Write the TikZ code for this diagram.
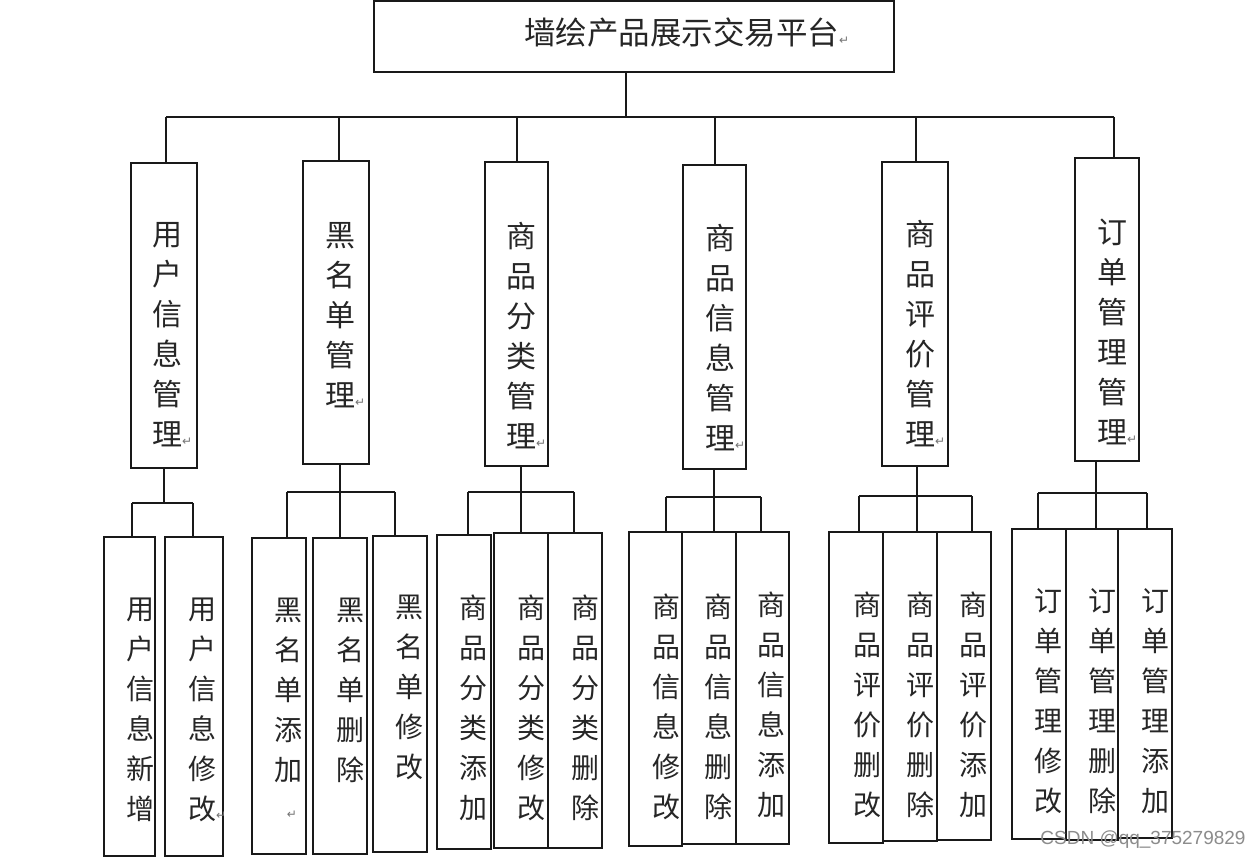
\documentclass[tikz,border=0pt]{standalone}
\usepackage{fontspec}
\newfontfamily\cjk{Noto Sans CJK SC}
\newfontfamily\dv{DejaVu Sans}
\newfontfamily\wm{Liberation Sans}
\usetikzlibrary{fit}
\newcommand\rmark{\rlap{\dv\fontsize{12}{12}\selectfont\color{black!55}↵}}
\tikzset{
  box/.style={draw=black!90, line width=1.6pt, inner sep=0pt, outer sep=0pt},
  ln/.style={draw=black!90, line width=1.6pt},
  toplbl/.style={font=\cjk\fontsize{31.5}{40}\selectfont, inner sep=0pt, text=black!85},
  lbl/.style={font=\cjk\fontsize{30}{40}\selectfont, align=center, inner sep=0pt, text=black!85},
  sub/.style={font=\cjk\fontsize{28}{40}\selectfont, align=center, inner sep=0pt, text=black!85}
}
\begin{document}
\begin{tikzpicture}[x=1pt,y=-1pt]
\useasboundingbox (0,0) rectangle (1258,858);
\fill[white] (0,0) rectangle (1258,858);
% top
\node[box, fit={(374,1) (894,72)}] (top) {};
\node[toplbl, anchor=west] (toptxt) at (524,33) {墙绘产品展示交易平台\rmark};
% level 2 boxes
\node[box, fit={(131,163) (197,468)}] (u) {};
\node[box, fit={(303,161) (369,464)}] (bl) {};
\node[box, fit={(485,162) (548,466)}] (fl) {};
\node[box, fit={(683,165) (746,469)}] (xx) {};
\node[box, fit={(882,162) (948,466)}] (pj) {};
\node[box, fit={(1075,158) (1139,461)}] (dd) {};
\node[lbl] (ut) at (167,335) {用\\户\\信\\息\\管\\理\rmark};
\node[lbl] (blt) at (340,315) {黑\\名\\单\\管\\理\rmark};
\node[lbl] (flt) at (521,336) {商\\品\\分\\类\\管\\理\rmark};
\node[lbl] (xxt) at (720,338) {商\\品\\信\\息\\管\\理\rmark};
\node[lbl] (pjt) at (920,334) {商\\品\\评\\价\\管\\理\rmark};
\node[lbl] (ddt) at (1112,332) {订\\单\\管\\理\\管\\理\rmark};
% level 3 boxes
\node[box, fit={(104,537) (155,856)}] (a) {};
\node[box, fit={(165,537) (223,856)}] (b) {};
\node[box, fit={(252,538) (306,854)}] (c) {};
\node[box, fit={(313,538) (367,854)}] (d) {};
\node[box, fit={(373,536) (427,852)}] (e) {};
\node[box, fit={(437,535) (491,849)}] (f) {};
\node[box, fit={(494,533) (548,848)}] (g) {};
\node[box, fit={(548,533) (602,848)}] (h) {};
\node[box, fit={(629,532) (682,846)}] (i) {};
\node[box, fit={(682,532) (736,844)}] (j) {};
\node[box, fit={(736,532) (789,844)}] (k) {};
\node[box, fit={(829,532) (883,843)}] (l) {};
\node[box, fit={(883,532) (937,841)}] (m) {};
\node[box, fit={(937,532) (991,840)}] (n) {};
\node[box, fit={(1012,529) (1066,839)}] (o) {};
\node[box, fit={(1066,529) (1118,840)}] (p) {};
\node[box, fit={(1118,529) (1172,838)}] (q) {};
\node[sub] (at) at (140,710) {用\\户\\信\\息\\新\\增};
\node[sub] (bt) at (202,710) {用\\户\\信\\息\\修\\改\rmark};
\node[sub] (ct) at (288,690) {黑\\名\\单\\添\\加};
\node[inner sep=0pt, font=\dv\fontsize{12}{12}\selectfont, text=black!55] (cm) at (292,815) {↵};
\node[sub] (dt) at (350,690) {黑\\名\\单\\删\\除};
\node[sub] (et) at (409,687) {黑\\名\\单\\修\\改};
\node[sub] (ft) at (473,708) {商\\品\\分\\类\\添\\加};
\node[sub] (gt) at (531,708) {商\\品\\分\\类\\修\\改};
\node[sub] (ht) at (585,708) {商\\品\\分\\类\\删\\除};
\node[sub] (it) at (666,707) {商\\品\\信\\息\\修\\改};
\node[sub] (jt) at (718,707) {商\\品\\信\\息\\删\\除};
\node[sub] (kt) at (771,705) {商\\品\\信\\息\\添\\加};
\node[sub] (lt) at (867,705) {商\\品\\评\\价\\删\\改};
\node[sub] (mt) at (920,705) {商\\品\\评\\价\\删\\除};
\node[sub] (nt) at (973,705) {商\\品\\评\\价\\添\\加};
\node[sub] (ot) at (1048,701) {订\\单\\管\\理\\修\\改};
\node[sub] (pt) at (1102,701) {订\\单\\管\\理\\删\\除};
\node[sub] (qt) at (1155,701) {订\\单\\管\\理\\添\\加};
% level 1 connectors
\coordinate (t0) at (626,117);
\coordinate (k1) at (166,117);
\coordinate (k2) at (339,117);
\coordinate (k3) at (517,117);
\coordinate (k4) at (715,117);
\coordinate (k5) at (916,117);
\coordinate (k6) at (1114,117);
\draw[ln] (top.south -| t0) -- (t0);
\draw[ln] (k1) -- (k6);
\draw[ln] (k1) -- (k1 |- u.north);
\draw[ln] (k2) -- (k2 |- bl.north);
\draw[ln] (k3) -- (k3 |- fl.north);
\draw[ln] (k4) -- (k4 |- xx.north);
\draw[ln] (k5) -- (k5 |- pj.north);
\draw[ln] (k6) -- (k6 |- dd.north);
% group 1
\coordinate (s1) at (164,503);
\coordinate (s1l) at (132,503);
\coordinate (s1r) at (193,503);
\draw[ln] (s1 |- u.south) -- (s1);
\draw[ln] (s1l) -- (s1r);
\draw[ln] (s1l) -- (s1l |- a.north);
\draw[ln] (s1r) -- (s1r |- b.north);
% group 2
\coordinate (s2) at (340,492);
\coordinate (s2l) at (287,492);
\coordinate (s2r) at (395,492);
\draw[ln] (s2 |- bl.south) -- (s2) -- (s2 |- d.north);
\draw[ln] (s2l) -- (s2r);
\draw[ln] (s2l) -- (s2l |- c.north);
\draw[ln] (s2r) -- (s2r |- e.north);
% group 3
\coordinate (s3) at (521,492);
\coordinate (s3l) at (468,492);
\coordinate (s3r) at (574,492);
\draw[ln] (s3 |- fl.south) -- (s3) -- (s3 |- g.north);
\draw[ln] (s3l) -- (s3r);
\draw[ln] (s3l) -- (s3l |- f.north);
\draw[ln] (s3r) -- (s3r |- h.north);
% group 4
\coordinate (s4) at (714,497);
\coordinate (s4l) at (666,497);
\coordinate (s4r) at (761,497);
\draw[ln] (s4 |- xx.south) -- (s4) -- (s4 |- j.north);
\draw[ln] (s4l) -- (s4r);
\draw[ln] (s4l) -- (s4l |- i.north);
\draw[ln] (s4r) -- (s4r |- k.north);
% group 5
\coordinate (s5) at (917,496);
\coordinate (s5l) at (859,496);
\coordinate (s5r) at (972,496);
\draw[ln] (s5 |- pj.south) -- (s5) -- (s5 |- m.north);
\draw[ln] (s5l) -- (s5r);
\draw[ln] (s5l) -- (s5l |- l.north);
\draw[ln] (s5r) -- (s5r |- n.north);
% group 6
\coordinate (s6) at (1096,493);
\coordinate (s6l) at (1038,493);
\coordinate (s6r) at (1147,493);
\draw[ln] (s6 |- dd.south) -- (s6) -- (s6 |- p.north);
\draw[ln] (s6l) -- (s6r);
\draw[ln] (s6l) -- (s6l |- o.north);
\draw[ln] (s6r) -- (s6r |- q.north);
% watermark
\node[inner sep=0pt, font=\wm\fontsize{19}{19}\selectfont, text=black!45] (wmk) at (1143,840) {CSDN @qq\_375279829};
\end{tikzpicture}
\end{document}
